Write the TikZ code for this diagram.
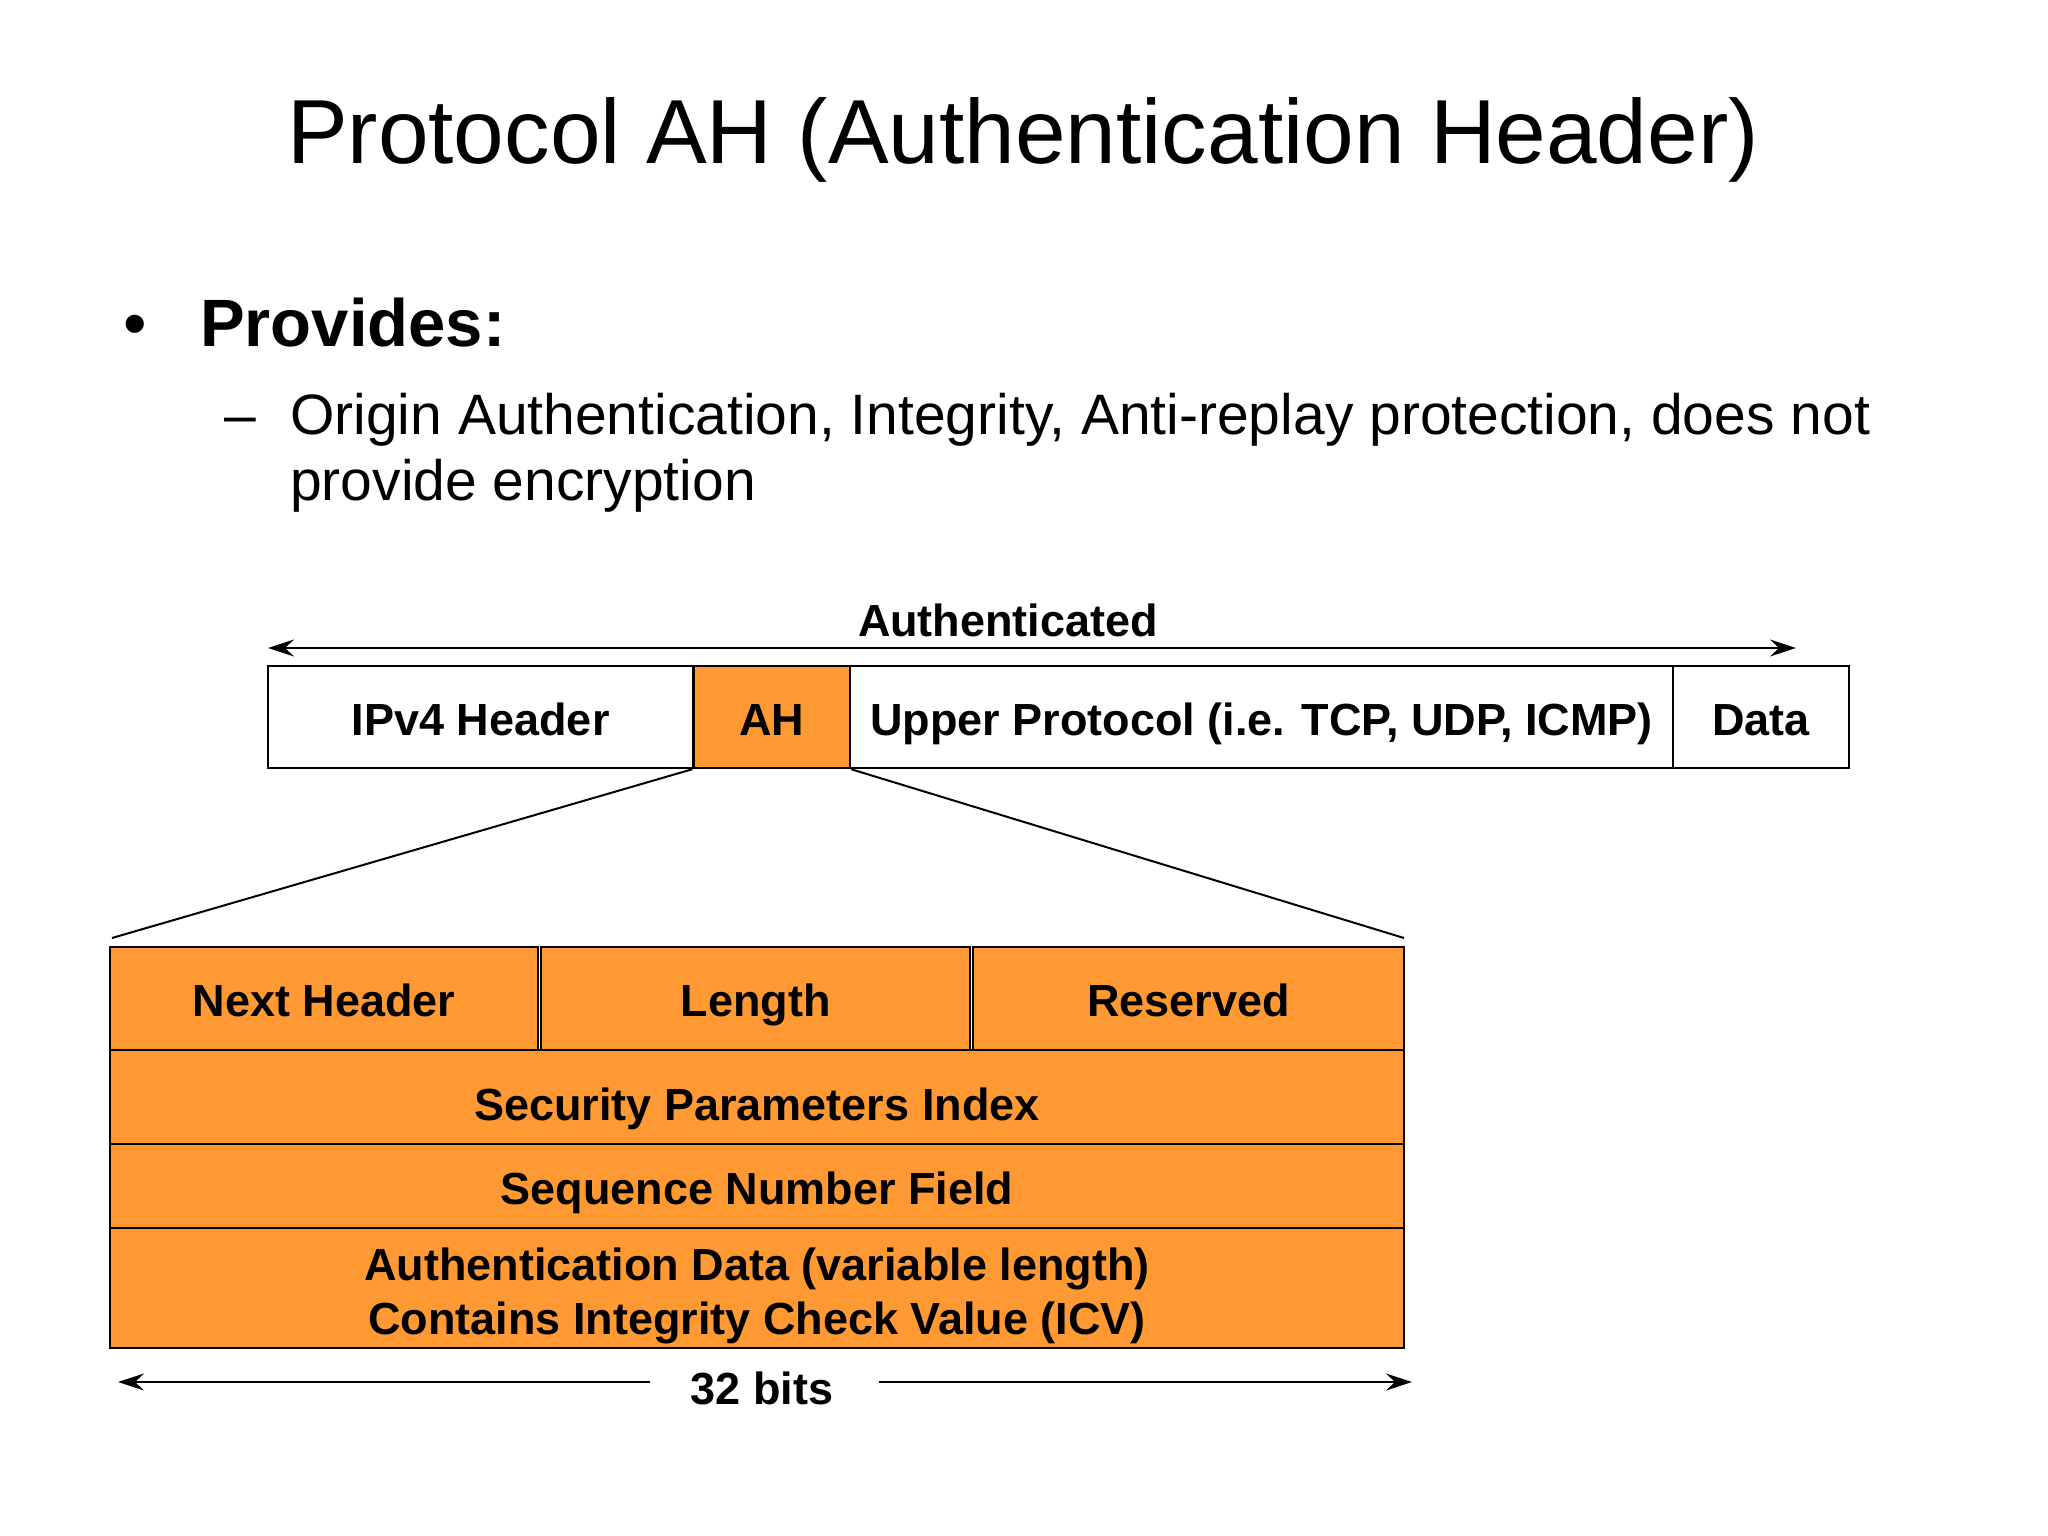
\documentclass[tikz,border=0pt]{standalone}
\usepackage{fontspec}
\setmainfont{Liberation Sans}
\usetikzlibrary{arrows.meta}
\definecolor{ahorange}{RGB}{255,153,51}
\begin{document}
\begin{tikzpicture}[x=1pt,y=-1pt,
  lbl/.style={font=\fontsize{45}{54}\selectfont\bfseries, inner sep=0pt},
  cell/.style={draw=black, line width=2.5pt, inner sep=0pt, text height=36pt, text depth=0pt, lbl},
  ocell/.style={cell, fill=ahorange},
  wcell/.style={cell, fill=white},
  arr/.style={line width=2pt, -{Stealth[length=26pt,width=17pt,inset=9pt]}},
  dblarr/.style={line width=2pt, {Stealth[length=26pt,width=17pt,inset=9pt]}-{Stealth[length=26pt,width=17pt,inset=9pt]}},
  expline/.style={line width=2pt},
]
\useasboundingbox (0,0) rectangle (2048,1536);

% title and bullets
\node[anchor=base, inner sep=0pt, font=\fontsize{91}{109}\selectfont] (title) at (1023,164) {Protocol AH (Authentication Header)};
\node[anchor=base, inner sep=0pt, font=\fontsize{67}{80}\selectfont] (bul) at (135,346) {•};
\node[anchor=base west, inner sep=0pt, font=\fontsize{67}{80}\selectfont\bfseries] (prov) at (200,346) {Provides:};
\node[anchor=base, inner sep=0pt, font=\fontsize{57}{66}\selectfont] (dash) at (240,434) {–};
\node[anchor=base west, inner sep=0pt, font=\fontsize{57}{66}\selectfont] (sub1) at (290,434) {Origin Authentication, Integrity, Anti-replay protection, does not};
\node[anchor=base west, inner sep=0pt, font=\fontsize{57}{66}\selectfont] (sub2) at (290,500) {provide encryption};

% authenticated arrow
\node[lbl, anchor=base] (auth) at (1008,636) {Authenticated};
\coordinate (authL) at (268,648);
\coordinate (authR) at (1796,648);
\draw[dblarr] (authL) -- (authR);

% packet row
\node[wcell, minimum width=425.5, minimum height=102] (ipv4) at (480.75,717) {IPv4 Header};
\node[ocell, minimum width=156.5, minimum height=102] (ah) at (771.75,717) {AH};
\node[wcell, minimum width=823, minimum height=102] (upper) at (1261.5,717) {Upper Protocol (i.e. TCP, UDP, ICMP)};
\node[wcell, minimum width=176, minimum height=102] (data) at (1761,717) {Data};

% expansion lines
\coordinate (expL) at (112,938);
\coordinate (expR) at (1404,938);
\draw[expline] (ah.south west) -- (expL);
\draw[expline] (ah.south east) -- (expR);

% AH structure
\node[ocell, minimum width=428, minimum height=103] (nh) at (324,998.5) {Next Header};
\node[ocell, minimum width=429, minimum height=103] (len) at (755.5,998.5) {Length};
\node[ocell, minimum width=431, minimum height=103] (res) at (1188.5,998.5) {Reserved};
\node[ocell, minimum width=1294, minimum height=94, text height=46pt] (spi) at (757,1097) {Security Parameters Index};
\node[ocell, minimum width=1294, minimum height=84] (seq) at (757,1186) {Sequence Number Field};
\node[ocell, minimum width=1294, minimum height=120] (ad) at (757,1288) {};
\node[lbl, align=center] (adtxt) at (757,1296) {Authentication Data (variable length)\\Contains Integrity Check Value (ICV)};

% 32 bits
\node[lbl, anchor=base] (bits) at (762,1404) {32 bits};
\coordinate (bitsLs) at (650,1382);
\coordinate (bitsLe) at (118,1382);
\coordinate (bitsRs) at (879,1382);
\coordinate (bitsRe) at (1412,1382);
\draw[arr] (bitsLs) -- (bitsLe);
\draw[arr] (bitsRs) -- (bitsRe);
\end{tikzpicture}
\end{document}
